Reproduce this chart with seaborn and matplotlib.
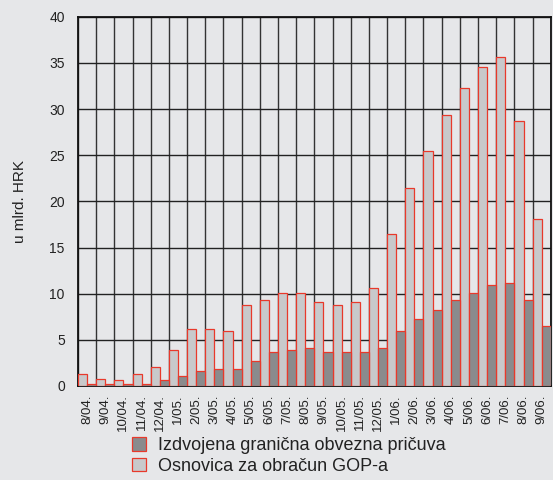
import pandas as pd
import matplotlib
matplotlib.use("Agg")
import matplotlib.pyplot as plt
import seaborn as sns

# Data
periods = [
    "8/04.", "9/04.", "10/04.", "11/04.", "12/04.",
    "1/05.", "2/05.", "3/05.", "4/05.", "5/05.", "6/05.", "7/05.", "8/05.",
    "9/05.", "10/05.", "11/05.", "12/05.",
    "1/06.", "2/06.", "3/06.", "4/06.", "5/06.", "6/06.", "7/06.", "8/06.", "9/06.",
]
osnovica = [
    1.3, 0.8, 0.6, 1.3, 2.1,
    3.9, 6.2, 6.2, 6.0, 8.8, 9.3, 10.1, 10.1,
    9.1, 8.8, 9.1, 10.6,
    16.5, 21.4, 25.5, 29.4, 32.3, 34.6, 35.6, 28.7, 18.1,
]
izdvojena = [
    0.25, 0.25, 0.25, 0.25, 0.6,
    1.05, 1.6, 1.85, 1.85, 2.65, 3.65, 3.9, 4.15,
    3.65, 3.65, 3.65, 4.15,
    5.95, 7.25, 8.25, 9.3, 10.1, 10.9, 11.1, 9.3, 6.45,
]
name_izd = "Izdvojena granična obvezna pričuva"
name_osn = "Osnovica za obračun GOP-a"

BG = "#e6e7e9"
RED = "#e8392b"

df = pd.DataFrame({
    "period": periods * 2,
    "value": osnovica + izdvojena,
    "series": [name_osn] * len(periods) + [name_izd] * len(periods),
})

sns.set_theme(style="white", rc={"axes.facecolor": BG, "figure.facecolor": BG})
plt.rcParams["font.family"] = ["Liberation Sans", "DejaVu Sans"]
plt.rcParams["savefig.facecolor"] = BG

fig = plt.figure(figsize=(5.53, 4.80), dpi=100)
ax = fig.add_axes([0.141, 0.196, 0.855, 0.769])

sns.barplot(
    data=df, x="period", y="value", hue="series",
    hue_order=[name_osn, name_izd],
    palette={name_osn: "#c8c9cb", name_izd: "#8a8b8d"},
    width=1.0, edgecolor=RED, linewidth=0.9, saturation=1,
    ax=ax, zorder=3,
)

ax.set_xlim(-0.5, len(periods) - 0.5)
ax.set_ylim(0, 40)
ax.set_yticks(range(0, 41, 5))
ax.set_xticks(range(len(periods)))
ax.set_xticklabels(periods, rotation=90, fontsize=9.5, color="#222222")
ax.set_xticks([i + 0.5 for i in range(-1, len(periods))], minor=True)
ax.tick_params(axis="x", which="major", length=0, pad=6)
ax.tick_params(axis="x", which="minor", length=4, width=1, color="#222222", direction="out")
ax.tick_params(axis="y", length=6, width=1, color="#222222", labelsize=10, labelcolor="#222222")
ax.grid(axis="y", which="major", color="#222222", linewidth=1.0, zorder=0)
ax.grid(axis="x", which="minor", color="#333333", linewidth=1.0, zorder=0)
ax.set_axisbelow(True)
for s in ax.spines.values():
    s.set_color("#111111")
    s.set_linewidth(1.3)

ax.set_xlabel("")
ax.set_ylabel("u mlrd. HRK", fontsize=11, color="#222222", labelpad=16)

# Legend below, dark series first
handles, labels = ax.get_legend_handles_labels()
ax.get_legend().remove()
order = [labels.index(name_izd), labels.index(name_osn)]
fig.legend(
    [handles[i] for i in order], [labels[i] for i in order],
    loc="center", bbox_to_anchor=(0.523, 0.05), frameon=False,
    fontsize=13, handlelength=0.75, handleheight=0.75, handletextpad=0.7,
    labelspacing=0.2, labelcolor="#222222",
)

fig.savefig("out.png", dpi=100)
